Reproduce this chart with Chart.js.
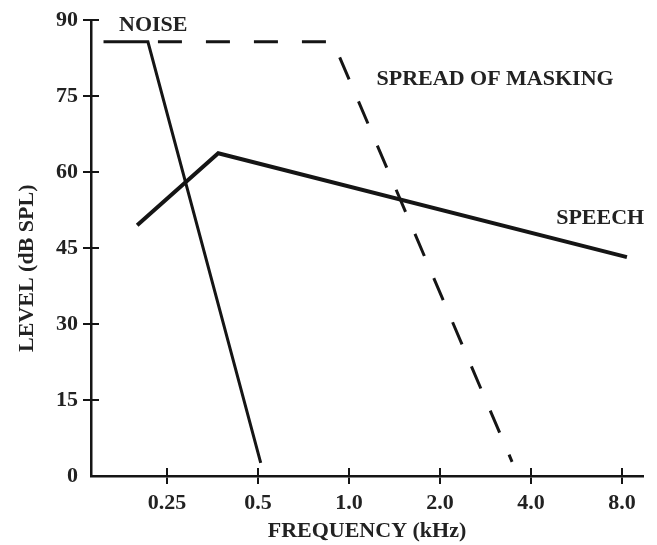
<!DOCTYPE html>
<html>
<head>
<meta charset="utf-8">
<script src="https://cdn.jsdelivr.net/npm/chart.js@4"></script>
<style>
  html, body { margin: 0; padding: 0; background: #fff; }
  #wrap { width: 657px; height: 545px; }
</style>
</head>
<body>
<div id="wrap"><canvas id="maskingChart"></canvas></div>
<script>
// values (frequency in kHz, level in dB SPL)
const noiseFreq = [0.154, 0.216, 0.51];
const noiseLevel = [85.7, 85.7, 2.6];
const maskFreq = [0.216, 0.885, 3.46];
const maskLevel = [85.7, 85.7, 2.8];
const speechFreq = [0.199, 0.369, 8.3];
const speechLevel = [49.5, 63.7, 43.2];

const xTicks = [0.25, 0.5, 1, 2, 4, 8];
const xTickLabels = ['0.25', '0.5', '1.0', '2.0', '4.0', '8.0'];
const yTicks = [0, 15, 30, 45, 60, 75, 90];

// text labels placed on the plot
const notes = [
    { text: 'NOISE', x: 0.225, y: 89 },
    { text: 'SPREAD OF MASKING', x: 3.04, y: 78.2 },
    { text: 'SPEECH', x: 6.77, y: 50.9 },
];

const INK = '#151515';
const TEXT = '#222';
const FONT = '"Liberation Serif", "Times New Roman", serif';

function toPoints(xs, ys) {
    return xs.map((x, i) => ({ x: x, y: ys[i] }));
}

// tick marks cross the axis, so draw the inner half too
const innerTicks = {
    id: 'innerTicks',
    afterDraw(chart) {
        const { ctx, chartArea, scales } = chart;
        ctx.save();
        ctx.strokeStyle = INK;
        ctx.lineWidth = 2;
        ctx.beginPath();
        xTicks.forEach(v => {
            const px = Math.round(scales.x.getPixelForValue(v));
            ctx.moveTo(px, chartArea.bottom);
            ctx.lineTo(px, chartArea.bottom - 8);
        });
        yTicks.filter(v => v > 0).forEach(v => {
            const py = Math.round(scales.y.getPixelForValue(v));
            ctx.moveTo(chartArea.left, py);
            ctx.lineTo(chartArea.left + 8, py);
        });
        ctx.stroke();
        ctx.restore();
    }
};

const plotNotes = {
    id: 'plotNotes',
    afterDatasetsDraw(chart) {
        const { ctx, scales } = chart;
        ctx.save();
        ctx.fillStyle = TEXT;
        ctx.font = 'bold 22px ' + FONT;
        ctx.textAlign = 'center';
        ctx.textBaseline = 'middle';
        notes.forEach(n => {
            ctx.fillText(n.text, scales.x.getPixelForValue(n.x), scales.y.getPixelForValue(n.y));
        });
        // y title sits a little below the middle of the axis in the original
        ctx.translate(27, scales.y.getPixelForValue(41));
        ctx.rotate(-Math.PI / 2);
        ctx.fillText('LEVEL (dB SPL)', 0, 0);
        ctx.restore();
    }
};

const chart = new Chart(document.querySelector('#maskingChart'), {
    type: 'line',
    data: {
        datasets: [
            {
                label: 'NOISE',
                data: toPoints(noiseFreq, noiseLevel),
                borderColor: INK,
                borderWidth: 3,
                pointRadius: 0,
            },
            {
                label: 'SPREAD OF MASKING',
                data: toPoints(maskFreq, maskLevel),
                borderColor: INK,
                borderWidth: 3,
                borderDash: [24, 24],
                borderDashOffset: 38,
                pointRadius: 0,
            },
            {
                label: 'SPEECH',
                data: toPoints(speechFreq, speechLevel),
                borderColor: INK,
                borderWidth: 4,
                pointRadius: 0,
            }
        ]
    },
    options: {
        responsive: true,
        maintainAspectRatio: false,
        animation: false,
        layout: { padding: { top: 20, right: 14, left: 0, bottom: 0 } },
        plugins: {
            legend: { display: false },
            tooltip: { enabled: false }
        },
        scales: {
            x: {
                type: 'logarithmic',
                min: 0.14,
                max: 9.38,
                afterBuildTicks: scale => {
                    scale.ticks = xTicks.map(v => ({ value: v }));
                },
                afterFit: scale => { scale.height = 69; },
                grid: { drawOnChartArea: false, tickLength: 8, color: INK, lineWidth: 2 },
                border: { color: INK, width: 2.5 },
                ticks: {
                    autoSkip: false,
                    maxRotation: 0,
                    padding: 6,
                    color: TEXT,
                    font: { family: FONT, size: 22, weight: 'bold' },
                    callback: (value, index) => xTickLabels[index]
                },
                title: {
                    display: true,
                    text: 'FREQUENCY (kHz)',
                    color: TEXT,
                    padding: { top: 0, bottom: 0 },
                    font: { family: FONT, size: 22, weight: 'bold' }
                }
            },
            y: {
                type: 'linear',
                min: 0,
                max: 90,
                afterBuildTicks: scale => {
                    scale.ticks = yTicks.map(v => ({ value: v }));
                },
                afterFit: scale => { scale.width = 91; },
                grid: {
                    drawOnChartArea: false,
                    tickLength: 8,
                    lineWidth: 2,
                    color: ctx => ctx.tick && ctx.tick.value === 0 ? 'rgba(0,0,0,0)' : INK
                },
                border: { color: INK, width: 2.5 },
                ticks: {
                    padding: 5,
                    color: TEXT,
                    font: { family: FONT, size: 22, weight: 'bold' }
                },
                title: { display: false }
            }
        }
    },
    plugins: [innerTicks, plotNotes]
});
</script>
</body>
</html>
